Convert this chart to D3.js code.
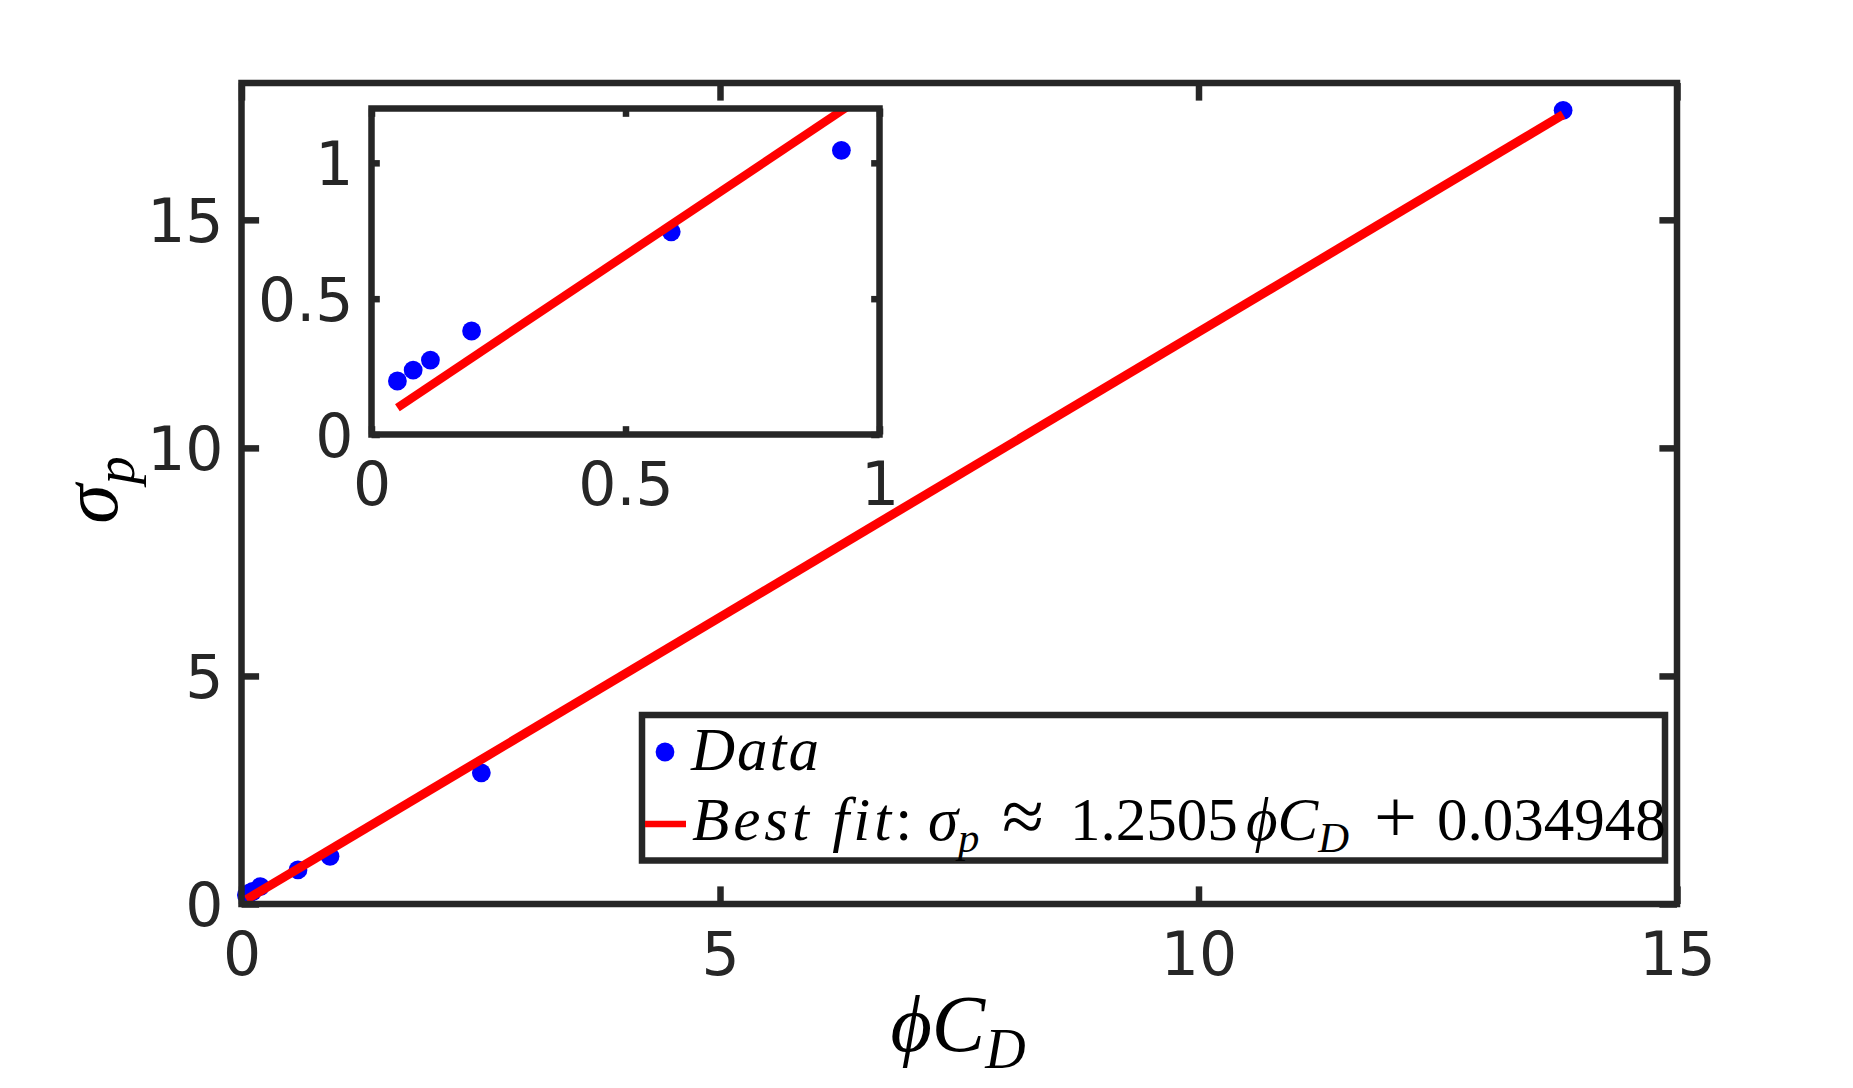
<!DOCTYPE html>
<html>
<head>
<meta charset="utf-8">
<script src="https://cdn.jsdelivr.net/npm/d3@7"></script>
<style>
  body { margin: 0; background: #fff; }
  .tick text { font-family: "DejaVu Sans", sans-serif; fill: #262626; }
  .math { font-family: "Liberation Serif", "DejaVu Serif", serif; fill: #000; }
</style>
</head>
<body>
<div id="chart"></div>
<script>
// measured points: phi*C_D vs sigma_p
var phiCD   = [0.051, 0.082, 0.116, 0.197, 0.590, 0.925, 2.506, 13.81];
var sigmaP  = [0.197, 0.237, 0.274, 0.381, 0.746, 1.046, 2.877, 17.40];
var fitSlope = 1.2505;
var fitIntercept = 0.034948;

var xTicks = [0, 5, 10, 15];
var yTicks = [0, 5, 10, 15];
var xTickLabels = ['0', '5', '10', '15'];
var yTickLabels = ['0', '5', '10', '15'];
var insetXTicks = [0, 0.5, 1];
var insetYTicks = [0, 0.5, 1];
var insetXTickLabels = ['0', '0.5', '1'];
var insetYTickLabels = ['0', '0.5', '1'];

var chart_width  = 1853;
var chart_height = 1088;
var frame_color = '#262626';
var frame_w = 6.5;

var data = phiCD.map((d, i) => ({ x: d, y: sigmaP[i] }));
var fitX = [d3.min(phiCD), d3.max(phiCD)];

var svg = d3.select('#chart')
            .append('svg')
            .attr('width', chart_width)
            .attr('height', chart_height);

// draws one boxed axes (ticks on all four sides, pointing in)
function drawAxes(box, xDomain, yDomain, xt, xl, yt, yl, lineW, clipId) {
    var x = d3.scaleLinear().domain(xDomain).range([box.left, box.right]);
    var y = d3.scaleLinear().domain(yDomain).range([box.bottom, box.top]);
    var tl = 0.01 * Math.max(box.right - box.left, box.bottom - box.top) + frame_w / 2;
    var g = svg.append('g');

    g.append('rect')
        .attr('x', box.left).attr('y', box.top)
        .attr('width', box.right - box.left).attr('height', box.bottom - box.top)
        .attr('fill', '#fff');

    var fmtX = (d) => xl[xt.indexOf(d)];
    var fmtY = (d) => yl[yt.indexOf(d)];

    var axes = [
        [d3.axisBottom(x).tickValues(xt).tickFormat(fmtX), 'translate(0,' + box.bottom + ')'],
        [d3.axisTop(x).tickValues(xt).tickFormat(''), 'translate(0,' + box.top + ')'],
        [d3.axisLeft(y).tickValues(yt).tickFormat(fmtY), 'translate(' + box.left + ',0)'],
        [d3.axisRight(y).tickValues(yt).tickFormat(''), 'translate(' + box.right + ',0)']
    ];
    axes.forEach((a, i) => {
        var ax = g.append('g')
            .attr('transform', a[1])
            .call(a[0].tickSizeInner(-tl).tickSizeOuter(0).tickPadding(i == 0 ? 28 : 18));
        ax.select('.domain').remove();
        ax.selectAll('.tick line')
            .attr('stroke', frame_color)
            .attr('stroke-width', frame_w);
        ax.selectAll('.tick text').attr('font-size', 60);
        if (i == 2) ax.selectAll('.tick text').attr('dy', '0.365em');
    });

    g.append('clipPath').attr('id', clipId)
        .append('rect')
        .attr('x', box.left).attr('y', box.top)
        .attr('width', box.right - box.left).attr('height', box.bottom - box.top);

    // data markers
    g.selectAll('circle')
        .data(data)
        .enter()
        .append('circle')
        .attr('cx', (d) => x(d.x))
        .attr('cy', (d) => y(d.y))
        .attr('r', 9.4)
        .attr('fill', '#0000ff');

    // best fit line
    var line = d3.line()
        .x((d) => x(d))
        .y((d) => y(fitSlope * d + fitIntercept));
    g.append('path')
        .datum(fitX)
        .attr('d', line)
        .attr('clip-path', 'url(#' + clipId + ')')
        .attr('fill', 'none')
        .attr('stroke', '#ff0000')
        .attr('stroke-width', lineW);

    g.append('rect')
        .attr('x', box.left).attr('y', box.top)
        .attr('width', box.right - box.left).attr('height', box.bottom - box.top)
        .attr('fill', 'none')
        .attr('stroke', frame_color)
        .attr('stroke-width', frame_w);
    return g;
}

var mainBox  = { left: 241.5, right: 1677, top: 83, bottom: 904 };
var insetBox = { left: 371.5, right: 879.5, top: 108.5, bottom: 434.5 };

drawAxes(mainBox, [0, 15], [0, 18], xTicks, xTickLabels, yTicks, yTickLabels, 9, 'clipMain');

// legend
var leg = svg.append('g');
leg.append('rect')
    .attr('x', 642).attr('y', 715)
    .attr('width', 1665 - 642).attr('height', 860.5 - 715)
    .attr('fill', '#fff')
    .attr('stroke', frame_color)
    .attr('stroke-width', frame_w);
leg.append('circle').attr('cx', 665).attr('cy', 752).attr('r', 9.4).attr('fill', '#0000ff');
leg.append('line')
    .attr('x1', 645).attr('x2', 686).attr('y1', 824).attr('y2', 824)
    .attr('stroke', '#ff0000').attr('stroke-width', 6.5);

var t1 = leg.append('text').attr('class', 'math').attr('x', 691).attr('y', 770).attr('font-size', 61);
t1.append('tspan').attr('font-style', 'italic').attr('letter-spacing', 2).text('Data');

// legend row 2, pieces placed like the TeX output
var t2 = leg.append('text').attr('class', 'math').attr('y', 839.5).attr('font-size', 61);
t2.append('tspan').attr('x', 692).attr('font-style', 'italic').attr('letter-spacing', 4).text('Best fit');
t2.append('tspan').text(':');
t2.append('tspan').attr('x', 928).attr('font-style', 'italic').text('\u03c3');
t2.append('tspan').attr('font-style', 'italic').attr('font-size', '0.7em').attr('dy', 12.8).text('p');
t2.append('tspan').attr('x', 1002).attr('dy', -10).attr('font-size', '1.25em').text('\u2248');
t2.append('tspan').attr('x', 1070).attr('dy', -2.8).text('1.2505');
t2.append('tspan').attr('x', 1246).attr('font-style', 'italic').text('\u03d5C');
t2.append('tspan').attr('font-style', 'italic').attr('font-size', '0.7em').attr('dy', 12.8).text('D');
t2.append('tspan').attr('x', 1374).attr('dy', -10).attr('font-size', '1.25em').text('+');
t2.append('tspan').attr('x', 1437).attr('dy', -2.8).text('0.034948');

// inset
drawAxes(insetBox, [0, 1], [0, 1.2], insetXTicks, insetXTickLabels, insetYTicks, insetYTickLabels, 8.5, 'clipInset');

// axis labels
var xl = svg.append('text').attr('class', 'math')
    .attr('x', 958).attr('y', 1051)
    .attr('text-anchor', 'middle')
    .attr('font-size', 80)
    .attr('font-style', 'italic');
xl.append('tspan').text('\u03d5C');
xl.append('tspan').attr('font-size', '0.7em').attr('dy', '0.3em').text('D');

var yl = svg.append('text').attr('class', 'math')
    .attr('transform', 'translate(117,490) rotate(-90)')
    .attr('text-anchor', 'middle')
    .attr('font-size', 80)
    .attr('font-style', 'italic');
yl.append('tspan').text('\u03c3');
yl.append('tspan').attr('font-size', '0.7em').attr('dy', '0.3em').text('p');
</script>
</body>
</html>
